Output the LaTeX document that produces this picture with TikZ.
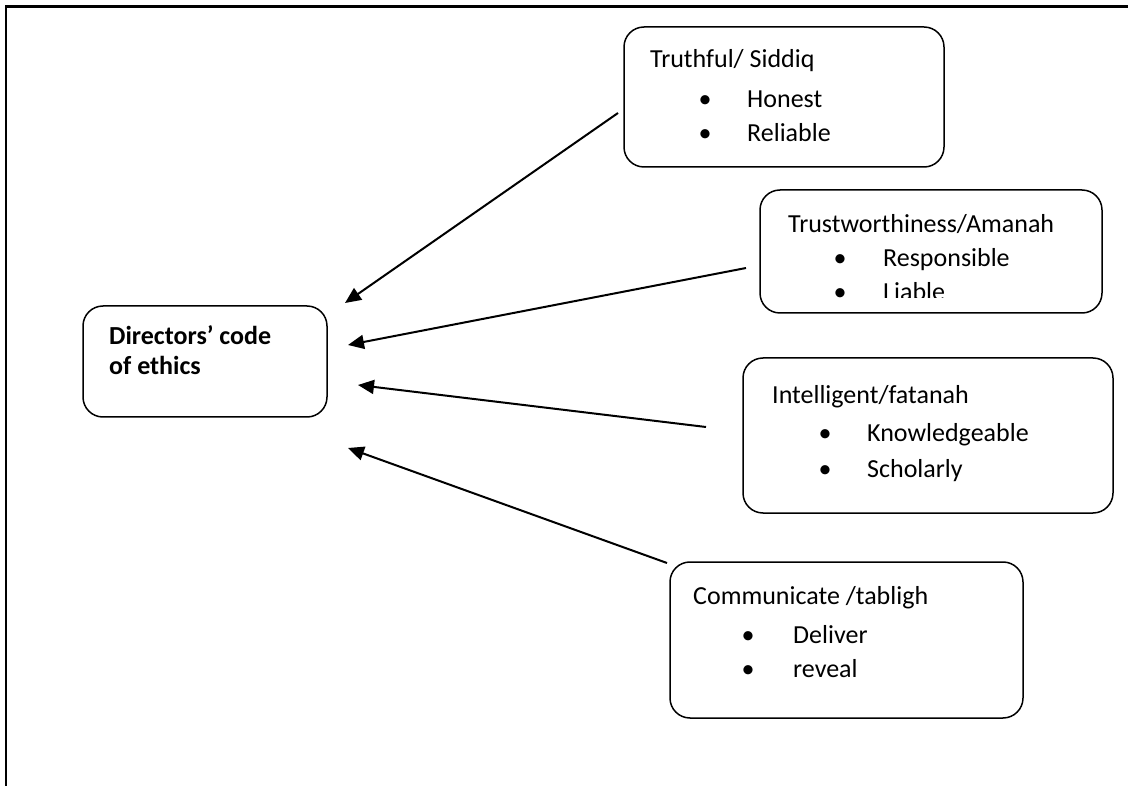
\documentclass[tikz,border=0pt]{standalone}
\usepackage{fontspec}
\setmainfont{Carlito}
\usetikzlibrary{arrows.meta}
\begin{document}
\begin{tikzpicture}[x=1pt,y=-1pt,
  box/.style={draw, line width=1.5pt, rounded corners=20pt, inner sep=0pt},
  txt/.style={anchor=base west, inner sep=0pt, font=\fontsize{26}{33}\selectfont},
  bul/.style={anchor=base, inner sep=0pt, font=\fontsize{26}{33}\selectfont},
  conn/.style={line width=2pt, -{Triangle[length=16pt,width=14pt]}}]
\useasboundingbox (0,0) rectangle (1128,786);
\draw[line width=2.5pt] (6,786) -- (6,6.5) -- (1128,6.5);

% boxes
\node[box, minimum width=244pt, minimum height=111pt] (center) at (205,361.5) {};
\node[box, minimum width=320pt, minimum height=140pt] (truth) at (784,97) {};
\node[box, minimum width=342pt, minimum height=123pt] (trust) at (931,251.5) {};
\node[box, minimum width=370pt, minimum height=155pt] (intel) at (928,435.5) {};
\node[box, minimum width=353pt, minimum height=156pt] (comm) at (846.5,640) {};

% central text
\node[txt, font=\fontsize{26}{33}\selectfont\bfseries] (c1) at (109,345) {Directors’ code};
\node[txt, font=\fontsize{26}{33}\selectfont\bfseries] (c2) at (109,375) {of ethics};

% truthful
\node[txt] (t0) at (650,68) {Truthful/ Siddiq};
\node[bul] (tb1) at (705,108) {•};
\node[txt] (t1) at (747,108) {Honest};
\node[bul] (tb2) at (705,142) {•};
\node[txt] (t2) at (747,142) {Reliable};

% trustworthiness
\node[txt] (w0) at (788,233) {Trustworthiness/Amanah};
\node[bul] (wb1) at (840,267) {•};
\node[txt] (w1) at (883,267) {Responsible};
\begin{scope}
\clip (760,190) rectangle (1102,298);
\node[bul] (wb2) at (840,301) {•};
\node[txt] (w2) at (883,301) {Liable};
\end{scope}

% intelligent
\node[txt] (i0) at (772,403) {Intelligent/fatanah};
\node[bul] (ib1) at (825,442) {•};
\node[txt] (i1) at (867,442) {Knowledgeable};
\node[bul] (ib2) at (825,477) {•};
\node[txt] (i2) at (867,477) {Scholarly};

% communicate
\node[txt] (m0) at (693,604) {Communicate /tabligh};
\node[bul] (mb1) at (748,643) {•};
\node[txt] (m1) at (793,643) {Deliver};
\node[bul] (mb2) at (748,677) {•};
\node[txt] (m2) at (793,677) {reveal};

% connector end points
\coordinate (a1s) at (618,113);
\coordinate (a1e) at (345,303);
\coordinate (a2s) at (746,268);
\coordinate (a2e) at (348,345);
\coordinate (a3s) at (706,427);
\coordinate (a3e) at (358,385);
\coordinate (a4s) at (667,563);
\coordinate (a4e) at (348,448);

\draw[conn] (a1s) -- (a1e);
\draw[conn] (a2s) -- (a2e);
\draw[conn] (a3s) -- (a3e);
\draw[conn] (a4s) -- (a4e);
\end{tikzpicture}
\end{document}
